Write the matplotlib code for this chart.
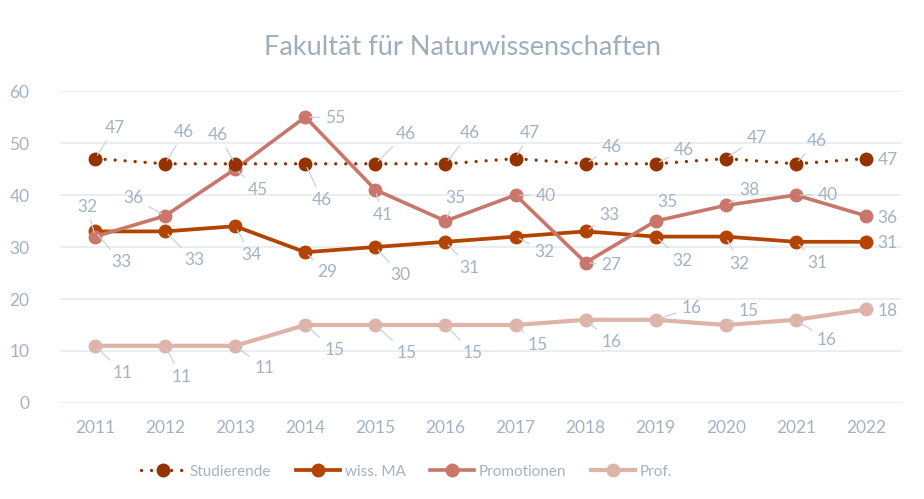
import matplotlib.pyplot as plt
import numpy as np

plt.rcParams['font.family'] = ['Lato', 'DejaVu Sans']

years = ['2011', '2012', '2013', '2014', '2015', '2016', '2017', '2018', '2019', '2020', '2021', '2022']
studierende = [47, 46, 46, 46, 46, 46, 47, 46, 46, 47, 46, 47]
wiss_ma = [33, 33, 34, 29, 30, 31, 32, 33, 32, 32, 31, 31]
promotionen = [32, 36, 45, 55, 41, 35, 40, 27, 35, 38, 40, 36]
prof = [11, 11, 11, 15, 15, 15, 15, 16, 16, 15, 16, 18]

# label offsets in pixels (dx, dy with y pointing down as in the picture)
off_stud = [(20, -31), (19, -32), (-17, -29), (17, 36), (30, -30), (24, -31),
            (14, -26), (26, -17), (28, -14), (31, -21), (21, -23), (22, 1)]
off_ma = [(26, 31), (29, 29), (16, 29), (22, 20), (25, 28), (24, 26),
          (29, 15), (24, -16), (27, 24), (14, 27), (22, 21), (22, 1)]
off_prom = [(-8, -30), (-32, -18), (23, 21), (30, 1), (7, 25), (10, -23),
            (30, 1), (26, 2), (12, -19), (24, -15), (32, 0), (22, 2)]
off_prof = [(28, 27), (16, 31), (29, 22), (29, 25), (31, 28), (27, 28),
            (22, 20), (26, 22), (36, -12), (23, -14), (31, 20), (22, 2)]

txt = '#A3B3C2'
grid = '#E6EBEF'
c_stud = '#943200'
c_ma = '#B34400'
c_prom = '#C8776A'
c_prof = '#DDB3AA'

fig = plt.figure(figsize=(9.24, 4.99), dpi=100)
ax = fig.add_axes([0.065, 0.1924, 0.91, 0.6252])
x = np.arange(len(years))

ax.plot(x, studierende, color=c_stud, lw=2.4, linestyle=(0, (0.01, 3.0)),
        dash_capstyle='round', marker='o', markersize=9, label='Studierende', zorder=4)
ax.plot(x, wiss_ma, color=c_ma, lw=2.7, marker='o', markersize=9, label='wiss. MA', zorder=3)
ax.plot(x, promotionen, color=c_prom, lw=2.6, marker='o', markersize=9, label='Promotionen', zorder=3)
ax.plot(x, prof, color=c_prof, lw=3.0, marker='o', markersize=9, label='Prof.', zorder=3)

def labels(vals, offs):
    for i, (v, (dx, dy)) in enumerate(zip(vals, offs)):
        d = np.hypot(dx, dy)
        ap = None
        if d > 24:
            ap = dict(arrowstyle='-', color='#C9D2DA', lw=0.9, shrinkA=2, shrinkB=3)
        ax.annotate(str(v), (x[i], v), xytext=(dx, -dy), textcoords='offset pixels',
                    ha='center', va='center', fontsize=12.5, color=txt,
                    arrowprops=ap, zorder=5)

labels(studierende, off_stud)
labels(wiss_ma, off_ma)
labels(promotionen, off_prom)
labels(prof, off_prof)

ax.set_xlim(-0.5, 11.5)
ax.set_ylim(0, 60)
ax.set_yticks(range(0, 61, 10))
ax.set_xticks(x)
ax.set_xticklabels(years)
ax.grid(axis='y', color=grid, lw=1.2)
ax.set_axisbelow(True)
for s in ax.spines.values():
    s.set_visible(False)
ax.tick_params(length=0, colors=txt, labelsize=12.5)
ax.tick_params(axis='x', pad=12)
ax.tick_params(axis='y', pad=22)

fig.text(0.5, 0.905, 'Fakultät für Naturwissenschaften', ha='center', va='center',
         fontsize=19.5, color='#A0AEBB')

leg = fig.legend(loc='center', bbox_to_anchor=(0.44, 0.055), ncol=4, frameon=False,
                 fontsize=11, labelcolor=txt, handlelength=2.9, columnspacing=1.6,
                 handletextpad=0.3)

plt.savefig('out.png', dpi=100)
